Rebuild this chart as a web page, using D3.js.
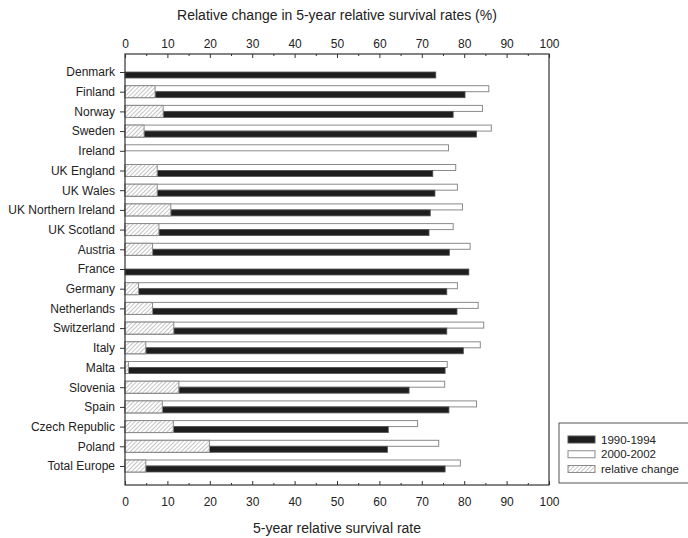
<!DOCTYPE html>
<html>
<head>
<meta charset="utf-8">
<script src="https://cdn.jsdelivr.net/npm/d3@7/dist/d3.min.js"></script>
<style>
  html, body { margin: 0; padding: 0; background: #fff; }
  svg { display: block; }
  text { font-family: "Liberation Sans", Arial, sans-serif; fill: #222; }
</style>
</head>
<body>
<svg id="chart" width="688" height="538"></svg>
<script>
const categories = ["Denmark", "Finland", "Norway", "Sweden", "Ireland", "UK England", "UK Wales",
  "UK Northern Ireland", "UK Scotland", "Austria", "France", "Germany", "Netherlands", "Switzerland",
  "Italy", "Malta", "Slovenia", "Spain", "Czech Republic", "Poland", "Total Europe"];
const v1990 = [73.3, 80.2, 77.4, 82.9, null, 72.6, 73.1, 72.0, 71.7, 76.5, 81.1, 75.9, 78.3, 75.9, 79.8, 75.5, 67.0, 76.4, 62.1, 61.9, 75.5];
const v2000 = [null, 85.8, 84.3, 86.4, 76.3, 78.0, 78.4, 79.6, 77.4, 81.4, null, 78.4, 83.3, 84.6, 83.8, 76.0, 75.4, 82.9, 69.0, 74.0, 79.1];
const relChange = [null, 7.1, 9.0, 4.5, null, 7.6, 7.6, 10.8, 8.0, 6.5, null, 3.2, 6.5, 11.5, 4.9, 0.8, 12.7, 8.8, 11.4, 19.9, 4.9];
const majorTicks = [0, 10, 20, 30, 40, 50, 60, 70, 80, 90, 100];
const minorTicks = [5, 15, 25, 35, 45, 55, 65, 75, 85, 95];
const seriesNames = ["1990-1994", "2000-2002", "relative change"];
const topTitle = "Relative change in 5-year relative survival rates (%)";
const bottomTitle = "5-year relative survival rate";

(function () {
const svg = d3.select("#chart");
const pL = 125, pR = 549, pT = 54, pB = 485;
const x = d3.scaleLinear().domain([0, 100]).range([pL, pR]);
const y = d3.scalePoint().domain(categories).range([72, 466]);
const bh = 6;

const rows = categories.map((c, i) => ({ c, a: v1990[i], b: v2000[i], r: relChange[i] }));

// hatch pattern
const defs = svg.append("defs");
const pat = defs.append("pattern").attr("id", "hatch").attr("patternUnits", "userSpaceOnUse")
  .attr("width", 3).attr("height", 3).attr("patternTransform", "rotate(45)");
pat.append("rect").attr("width", 3).attr("height", 3).attr("fill", "#fff");
pat.append("line").attr("x1", 0).attr("y1", 0).attr("x2", 0).attr("y2", 3)
  .attr("stroke", "#8a8a8a").attr("stroke-width", 1);

// bars 2000-2002 (white, above centre)
svg.append("g").selectAll("rect").data(rows.filter(d => d.b != null)).join("rect")
  .attr("x", x(0)).attr("y", d => y(d.c) - bh)
  .attr("width", d => x(d.b) - x(0)).attr("height", bh)
  .attr("fill", "#fff").attr("stroke", "#8a8a8a").attr("stroke-width", 1);

// bars 1990-1994 (black, below centre)
svg.append("g").selectAll("rect").data(rows.filter(d => d.a != null)).join("rect")
  .attr("x", x(0)).attr("y", d => y(d.c))
  .attr("width", d => x(d.a) - x(0)).attr("height", bh)
  .attr("fill", "#1e1e1e").attr("stroke", "#555").attr("stroke-width", 0.8);

// relative change (hatched, spanning both)
svg.append("g").selectAll("rect").data(rows.filter(d => d.r != null)).join("rect")
  .attr("x", x(0)).attr("y", d => y(d.c) - bh)
  .attr("width", d => x(d.r) - x(0)).attr("height", bh * 2)
  .attr("fill", "url(#hatch)").attr("stroke", "#8a8a8a").attr("stroke-width", 1);

// frame
svg.append("rect").attr("x", pL).attr("y", pT).attr("width", pR - pL).attr("height", pB - pT)
  .attr("fill", "none").attr("stroke", "#333").attr("stroke-width", 1.2);

function styleAxis(g) {
  g.select(".domain").remove();
  g.selectAll("line").attr("stroke", "#333");
  g.selectAll("text").attr("font-size", 12).attr("fill", "#222")
    .attr("font-family", '"Liberation Sans", Arial, sans-serif');
}

// top axis
svg.append("g").attr("transform", `translate(0,${pT})`)
  .call(d3.axisTop(x).tickValues(majorTicks).tickSize(-4).tickPadding(6.5).tickFormat(d3.format("d")))
  .call(styleAxis);
svg.append("g").attr("transform", `translate(0,${pT})`)
  .call(d3.axisTop(x).tickValues(minorTicks).tickSize(-2).tickFormat(""))
  .call(styleAxis);

// bottom axis
svg.append("g").attr("transform", `translate(0,${pB})`)
  .call(d3.axisBottom(x).tickValues(majorTicks).tickSize(-4).tickPadding(12.5).tickFormat(d3.format("d")))
  .call(styleAxis);
svg.append("g").attr("transform", `translate(0,${pB})`)
  .call(d3.axisBottom(x).tickValues(minorTicks).tickSize(-2).tickFormat(""))
  .call(styleAxis);

// left axis
svg.append("g").attr("transform", `translate(${pL},0)`)
  .call(d3.axisLeft(y).tickSize(5).tickPadding(5))
  .call(styleAxis);

// titles
svg.append("text").attr("x", (pL + pR) / 2).attr("y", 20).attr("text-anchor", "middle")
  .attr("font-size", 14).text(topTitle);
svg.append("text").attr("x", (pL + pR) / 2).attr("y", 533).attr("text-anchor", "middle")
  .attr("font-size", 14).text(bottomTitle);

// legend
const lg = svg.append("g");
lg.append("rect").attr("x", 559).attr("y", 423).attr("width", 140).attr("height", 60)
  .attr("fill", "#fff").attr("stroke", "#555").attr("stroke-width", 1);
const legendFills = ["#1e1e1e", "#fff", "url(#hatch)"];
const legendStrokes = ["#555", "#8a8a8a", "#8a8a8a"];
const ly = d3.scalePoint().domain(seriesNames).range([439.5, 469]);
seriesNames.forEach((s, i) => {
  lg.append("rect").attr("x", 568).attr("y", ly(s) - 3.5).attr("width", 27).attr("height", 7)
    .attr("fill", legendFills[i]).attr("stroke", legendStrokes[i]).attr("stroke-width", 1);
  lg.append("text").attr("x", 601).attr("y", ly(s) + 4).attr("font-size", 11.5).text(s);
});
})();
</script>
</body>
</html>
